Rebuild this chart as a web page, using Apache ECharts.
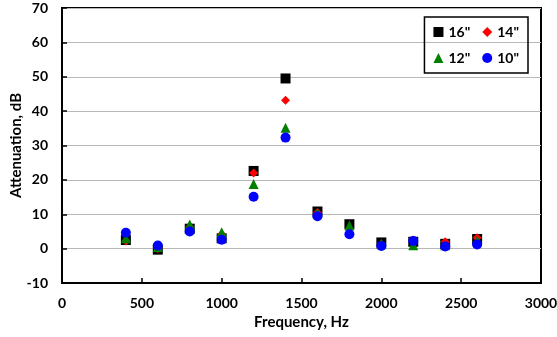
<!DOCTYPE html>
<html>
<head>
<meta charset="utf-8">
<script src="https://cdn.jsdelivr.net/npm/echarts@6/dist/echarts.min.js"></script>
<style>
  html, body {margin: 0; padding: 0; background: #fff;}
  #chart {width: 557px; height: 337px;}
</style>
</head>
<body>
<div id="chart"></div>
<script>
// frequency, Hz
const freqs = [400, 600, 800, 1000, 1200, 1400, 1600, 1800, 2000, 2200, 2400, 2600];
// attenuation, dB
const att16 = [2.5, -0.3, 5.8, 3.0, 22.6, 49.5, 10.8, 7.1, 1.8, 2.0, 1.4, 2.8];
const att14 = [2.2, 0.0, 6.3, 4.2, 22.0, 43.2, 10.5, 5.8, 1.2, 2.5, 2.0, 3.2];
const att12 = [3.0, 0.5, 7.0, 4.8, 18.8, 35.2, 10.4, 6.7, 1.4, 1.0, 1.0, 2.4];
const att10 = [4.6, 0.9, 5.0, 2.6, 15.1, 32.3, 9.4, 4.2, 0.8, 2.2, 0.6, 1.2];

const font = 'Lato, "Open Sans", sans-serif';
const pairs = arr => freqs.map((f, i) => [f, arr[i]]);

const myChart = echarts.init(document.getElementById('chart'));
myChart.setOption({
  animation: false,
  textStyle: {fontFamily: font},
  grid: {
    left: 62, right: 16, top: 8, bottom: 54,
    outerBoundsMode: 'none', containLabel: false,
    show: true, borderColor: '#000', borderWidth: 2
  },
  legend: {
    right: 29,
    top: 17,
    width: 90,
    padding: [8, 9, 8, 9],
    itemGap: 12,
    itemWidth: 10,
    itemHeight: 10,
    borderColor: '#000',
    borderWidth: 1.5,
    textStyle: {fontFamily: font, fontWeight: 'bold', fontSize: 14, color: '#000'},
    data: ['16"', '14"', '12"', '10"']
  },
  xAxis: {
    type: 'value',
    min: 0,
    max: 3000,
    interval: 500,
    name: 'Frequency, Hz',
    nameLocation: 'middle',
    nameGap: 32,
    nameMoveOverlap: false,
    nameTextStyle: {fontFamily: font, fontWeight: 'bold', fontSize: 15, color: '#000'},
    axisLine: {onZero: false, lineStyle: {color: '#000', width: 2}},
    axisTick: {inside: true, length: 5, lineStyle: {color: '#000', width: 1.5}},
    axisLabel: {margin: 13, fontFamily: font, fontWeight: 'bold', fontSize: 14, color: '#000', formatter: v => String(v)},
    splitLine: {show: false}
  },
  yAxis: {
    type: 'value',
    min: -10,
    max: 70,
    interval: 10,
    name: 'Attenuation, dB',
    nameLocation: 'middle',
    nameGap: 38,
    nameMoveOverlap: false,
    nameTextStyle: {fontFamily: font, fontWeight: 'bold', fontSize: 15, color: '#000'},
    axisLine: {lineStyle: {color: '#000', width: 2}},
    axisTick: {inside: true, length: 5, lineStyle: {color: '#000', width: 1.5}},
    axisLabel: {margin: 14, fontFamily: font, fontWeight: 'bold', fontSize: 14, color: '#000'},
    splitLine: {lineStyle: {color: '#b8b8b8', width: 1}}
  },
  series: [
    {name: '16"', symbol: 'rect', symbolSize: 10, color: '#000000', data: pairs(att16)},
    {name: '14"', symbol: 'diamond', symbolSize: 9, color: '#ff0000', data: pairs(att14)},
    {name: '12"', symbol: 'triangle', symbolSize: 10, color: '#008000', data: pairs(att12)},
    {name: '10"', symbol: 'circle', symbolSize: 10, color: '#0000ff', data: pairs(att10)}
  ].map(obj => ({...obj, type: 'scatter', itemStyle: {color: obj.color, opacity: 1}}))
});
</script>
</body>
</html>
